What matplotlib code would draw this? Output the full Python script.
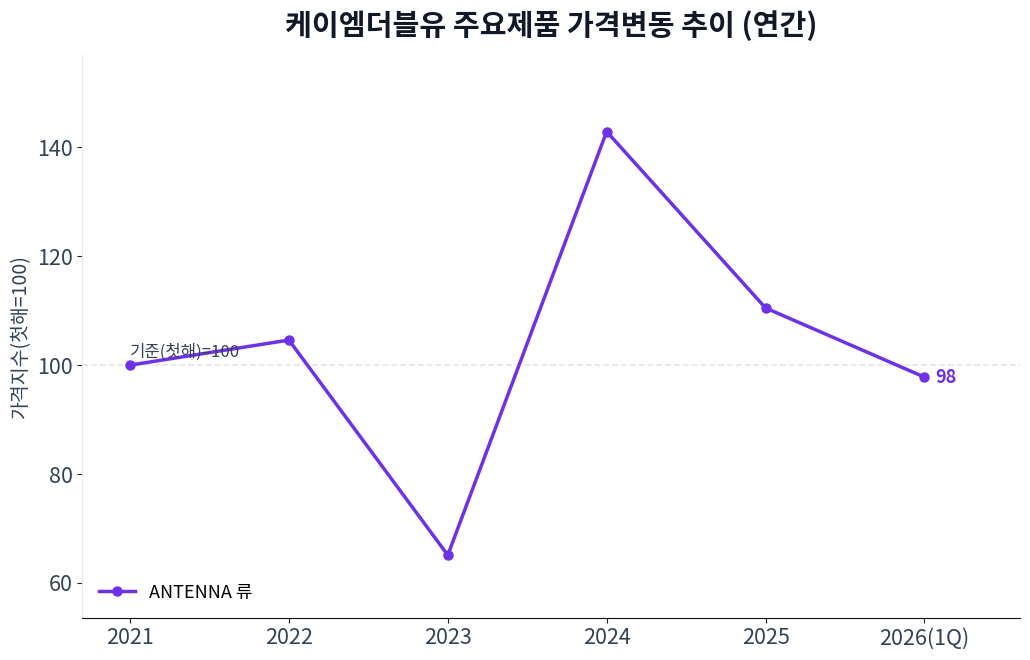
import matplotlib
matplotlib.use("Agg")
from matplotlib import pyplot as plt

years = ["2021", "2022", "2023", "2024", "2025", "2026(1Q)"]
price_index = [100.0, 104.6, 65.1, 142.9, 110.5, 97.8]
series_name = "ANTENNA 류"
title = "케이엠더블유 주요제품 가격변동 추이 (연간)"
y_label = "가격지수(첫해=100)"
base_note = "기준(첫해)=100"

plt.rcParams['font.family'] = ['Noto Sans CJK KR', 'DejaVu Sans']

LINE = '#6d32e6'
TICK = '#334155'


def main():
    fig, ax = plt.subplots(figsize=(10.3, 6.6), dpi=100)
    fig.subplots_adjust(left=0.08, right=0.99, top=0.917, bottom=0.064)

    xs = list(range(len(years)))
    ax.plot(xs, price_index, color=LINE, linewidth=2.5, marker='o',
            markersize=6.5, label=series_name, zorder=3)
    ax.axhline(100, color='#e2e5ea', linewidth=1.2, linestyle='--', zorder=1)

    ax.annotate(base_note, (xs[0], 100), xytext=(0, 6), textcoords='offset points',
                fontsize=12, color='#374151')
    ax.annotate(f"{price_index[-1]:.0f}", (xs[-1], price_index[-1]),
                xytext=(8, 0), textcoords='offset points', va='center',
                fontsize=13, fontweight='bold', color=LINE)

    ax.set_xticks(xs)
    ax.set_xticklabels(years)
    ax.set_xlim(-0.3, 5.6)
    ax.set_ylim(53.6, 157)
    ax.set_yticks([60, 80, 100, 120, 140])
    ax.tick_params(labelsize=15.5, colors=TICK)
    ax.tick_params(axis='both', color='#222222')

    ax.spines['top'].set_visible(False)
    ax.spines['right'].set_visible(False)
    ax.spines['left'].set_color('#e5e7eb')
    ax.spines['bottom'].set_color('#111111')

    ax.set_ylabel(y_label, fontsize=14, color=TICK)
    ax.set_title(title, fontsize=21, fontweight='bold', color='#111827', pad=14)

    ax.legend(loc='lower left', frameon=False, fontsize=13)

    fig.savefig('out.png', dpi=100)


if __name__ == '__main__':
    main()
